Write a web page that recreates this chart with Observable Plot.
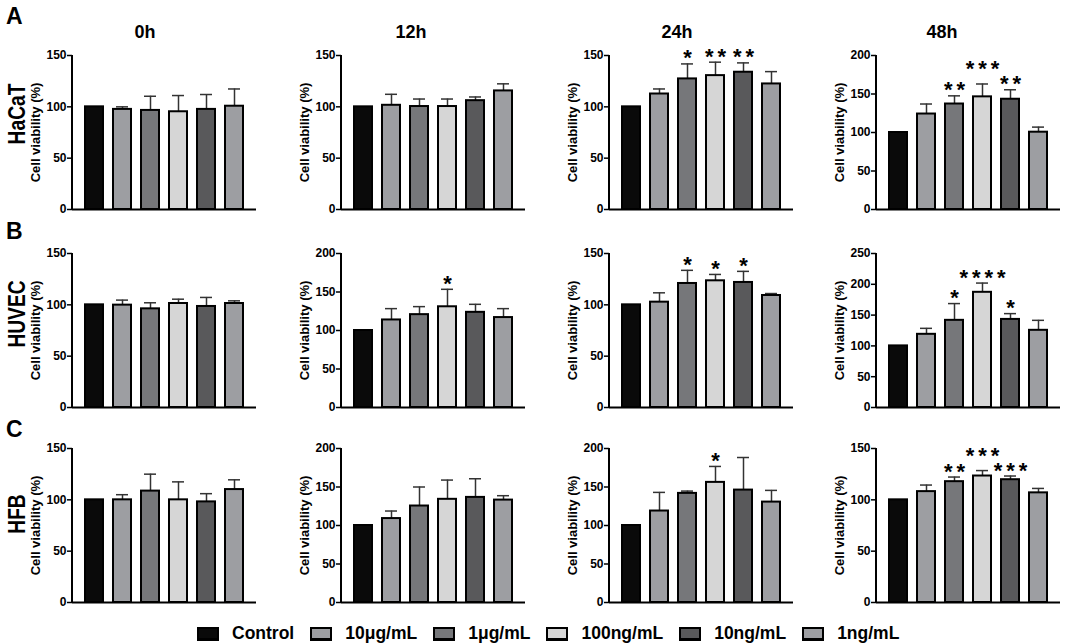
<!DOCTYPE html>
<html><head><meta charset="utf-8">
<script src="https://cdn.jsdelivr.net/npm/d3@7"></script>
<script src="https://cdn.jsdelivr.net/npm/@observablehq/plot@0.6"></script>
<style>
body{margin:0;background:#fff;font-family:Arial,"Liberation Sans",sans-serif;color:#000}
#fig{position:relative;width:1065px;height:644px;overflow:hidden;background:#fff}
.abs{position:absolute;white-space:nowrap;font-weight:bold;line-height:normal}
.rowlab{transform:translate(-50%,-50%) rotate(-90deg) scaleX(0.8);font-size:24px}
.coltitle{transform:translateX(-50%);font-size:18px}
.letter{font-size:23px}
#legend{position:absolute;left:197px;top:623px;display:flex;align-items:center;font-weight:bold;font-size:17.5px;line-height:normal}
#legend .item{display:flex;align-items:center;margin-right:16px}
#legend .sw{width:18px;height:9px;border:2px solid #000;border-bottom-width:3px;margin-right:13px}
</style></head><body><div id="fig"></div><script>
const treatments = ["Control","10μg/mL","1μg/mL","100ng/mL","10ng/mL","1ng/mL"];
const treatmentColors = ["#0a0a0a","#9d9ea2","#76777a","#d6d6d6","#59595b","#9d9ea2"];
const cellLines = ["HaCaT","HUVEC","HFB"];
const panelLetters = ["A","B","C"];
const timePoints = ["0h","12h","24h","48h"];
const yLabel = "Cell viability (%)";

// y-axis maximum per panel (0h, 12h, 24h, 48h)
const hacatYMax = [150, 150, 150, 200];
const huvecYMax = [150, 200, 150, 250];
const hfbYMax   = [150, 200, 200, 150];

// mean cell viability (%) per treatment
const hacatMean = [
  [100, 97.5, 96.5, 95.2, 97.5, 100.6],
  [100, 101.5, 100.3, 100.3, 106, 115.5],
  [100, 112.5, 127.2, 130.4, 133.7, 122.3],
  [100, 124, 137, 146.3, 143.2, 100.4]
];
// top of error bar (mean + SD)
const hacatUpper = [
  [100, 100, 110.3, 111, 112, 117.4],
  [100, 112.2, 107.6, 107.6, 109.6, 122.4],
  [100, 117.4, 141.8, 143.5, 142.8, 134.3],
  [100, 137, 147.6, 163, 155.5, 107]
];
const hacatStars = [
  ["", "", "", "", "", ""],
  ["", "", "", "", "", ""],
  ["", "", "*", "**", "**", ""],
  ["", "", "**", "***", "**", ""]
];

const huvecMean = [
  [100, 99.7, 96.1, 101.3, 98.4, 101.3],
  [100, 113.7, 120.6, 130.8, 123.6, 116.8],
  [100, 102.6, 120.8, 123.4, 121.8, 109.1],
  [100, 118.8, 141.5, 187, 143, 125.3]
];
const huvecUpper = [
  [100, 104.6, 102, 105.5, 107.2, 103.9],
  [100, 128.4, 131, 153.5, 134, 128.4],
  [100, 111.7, 133.6, 129.6, 132.6, 111],
  [100, 128.5, 168.7, 202, 152.4, 141.5]
];
const huvecStars = [
  ["", "", "", "", "", ""],
  ["", "", "", "*", "", ""],
  ["", "", "*", "*", "*", ""],
  ["", "", "*", "****", "*", ""]
];

const hfbMean = [
  [100, 100, 108.5, 100, 98, 110],
  [100, 109, 125.3, 134, 136.5, 133],
  [100, 118.8, 141.7, 156, 146, 130.4],
  [100, 108, 117.7, 123.2, 119.6, 106.8]
];
const hfbUpper = [
  [100, 105, 125, 117.5, 106, 119.5],
  [100, 118.8, 150, 159, 160.7, 138.7],
  [100, 143, 144.7, 176.7, 188.3, 145.6],
  [100, 114.4, 122.2, 128.5, 123.2, 111.1]
];
const hfbStars = [
  ["", "", "", "", "", ""],
  ["", "", "", "", "", ""],
  ["", "", "", "*", "", ""],
  ["", "", "**", "***", "***", ""]
];

const allMean = [hacatMean, huvecMean, hfbMean];
const allUpper = [hacatUpper, huvecUpper, hfbUpper];
const allStars = [hacatStars, huvecStars, hfbStars];
const allYMax = [hacatYMax, huvecYMax, hfbYMax];

// layout
const colAxisX = [72, 341, 609, 876];
const rowTopY = [55, 253, 448];
const innerW = 184, innerH = 154;
const mL = 60, mR = 4, mT = 22, mB = 6;
const padIn = 0.35, padOut = 0.42;
const starFont = 22, starSpacing = 4, starSep = 15;

const fig = document.getElementById("fig");
const FONT = "Arial, 'Liberation Sans', sans-serif";

function yAxisLine(yMax) {
  return (index, scales, values, dims) => {
    const x = dims.marginLeft;
    return d3.create("svg:line")
      .attr("x1", x).attr("x2", x)
      .attr("y1", scales.y(yMax)).attr("y2", scales.y(0))
      .attr("stroke", "black").attr("stroke-width", 2)
      .node();
  };
}

// lift significance labels that would collide with a neighbour's label
function placeStars(rows, yMax) {
  const pxPerUnit = innerH / yMax;
  const step = innerW / (treatments.length - padIn + 2 * padOut);
  const halfW = s => (s.length * (starFont * 0.389 + starSpacing) - starSpacing) / 2;
  const placed = [];
  rows.filter(d => d.star).sort((a, b) => a.hi - b.hi).forEach(d => {
    const idx = treatments.indexOf(d.cat);
    let liftPx = 0;
    placed.forEach(p => {
      const gapX = Math.abs(p.idx - idx) * step - (halfW(p.star) + halfW(d.star));
      if (gapX < 6) {
        const myPx = d.hi * pxPerUnit + liftPx;
        const otherPx = p.hi * pxPerUnit + p.liftPx;
        const need = d.star.length >= 3 || p.star.length >= 3 ? starSep : 12;
        if (myPx - otherPx < need) liftPx += need - (myPx - otherPx);
      }
    });
    d.idx = idx; d.liftPx = liftPx;
    d.starY = d.hi + liftPx / pxPerUnit;
    placed.push(d);
  });
  return placed;
}

cellLines.forEach((line, r) => {
  timePoints.forEach((tp, c) => {
    const yMax = allYMax[r][c];
    const rows = treatments.map((t, i) => ({
      cat: t,
      mean: allMean[r][c][i],
      hi: allUpper[r][c][i],
      star: allStars[r][c][i]
    }));
    const errRows = rows.filter(d => d.hi > d.mean);
    const starRows = placeStars(rows, yMax);
    const svg = Plot.plot({
      width: mL + innerW + mR,
      height: mT + innerH + mB,
      marginLeft: mL, marginRight: mR, marginTop: mT, marginBottom: mB,
      style: {fontFamily: FONT, fontSize: "12px", fontWeight: "bold", color: "black", background: "transparent", overflow: "visible"},
      x: {type: "band", domain: treatments, paddingInner: padIn, paddingOuter: padOut, axis: null},
      y: {domain: [0, yMax], axis: null},
      color: {domain: treatments, range: treatmentColors},
      marks: [
        Plot.ruleX(errRows, {x: "cat", y1: "mean", y2: "hi", stroke: "#333", strokeWidth: 1.5}),
        Plot.tickY(errRows, {x: "cat", y: "hi", insetLeft: 3, insetRight: 3, stroke: "#333", strokeWidth: 1.5}),
        Plot.barY(rows, {x: "cat", y: "mean", fill: "cat", stroke: "black", strokeWidth: 2}),
        Plot.axisY({ticks: d3.range(0, yMax + 1, 50), tickSize: 5, tickPadding: 1, tickFormat: d3.format("d"), fontSize: 12, fontWeight: "bold", strokeWidth: 1.5, label: null}),
        yAxisLine(yMax),
        Plot.ruleY([0], {strokeWidth: 2}),
        Plot.text([yLabel], {frameAnchor: "left", text: d => d, rotate: -90, dx: -37, textAnchor: "middle", lineAnchor: "middle", fontSize: 13, fontWeight: "bold"}),
        Plot.text(starRows, {x: "cat", y: "starY", text: "star", dy: 1.5, dx: starSpacing / 2, textAnchor: "middle", lineAnchor: "bottom", fontSize: starFont, fontWeight: "bold"})
      ]
    });
    svg.querySelectorAll("text").forEach(t => {
      if (/^\*+$/.test(t.textContent)) t.style.letterSpacing = starSpacing + "px";
    });
    svg.style.position = "absolute";
    svg.style.left = (colAxisX[c] - mL) + "px";
    svg.style.top = (rowTopY[r] - mT) + "px";
    fig.appendChild(svg);
  });
});

function addText(txt, cls, left, top) {
  const d = document.createElement("div");
  d.className = "abs " + cls;
  d.textContent = txt;
  d.style.left = left + "px";
  d.style.top = top + "px";
  fig.appendChild(d);
}

// panel letters
const letterTop = [3, 218, 416];
panelLetters.forEach((L, r) => addText(L, "letter", 6, letterTop[r]));
// row labels (centre positions)
const rowLabelY = [114, 314, 514];
cellLines.forEach((name, r) => addText(name, "rowlab", 17, rowLabelY[r]));
// column titles
const colTitleX = [145, 411, 677, 942];
timePoints.forEach((tp, c) => addText(tp, "coltitle", colTitleX[c], 21.5));

// legend
const legend = document.createElement("div");
legend.id = "legend";
treatments.forEach((t, i) => {
  const item = document.createElement("div");
  item.className = "item";
  const sw = document.createElement("div");
  sw.className = "sw";
  sw.style.background = treatmentColors[i];
  const lab = document.createElement("span");
  lab.textContent = t;
  item.appendChild(sw);
  item.appendChild(lab);
  legend.appendChild(item);
});
fig.appendChild(legend);
</script></body></html>
